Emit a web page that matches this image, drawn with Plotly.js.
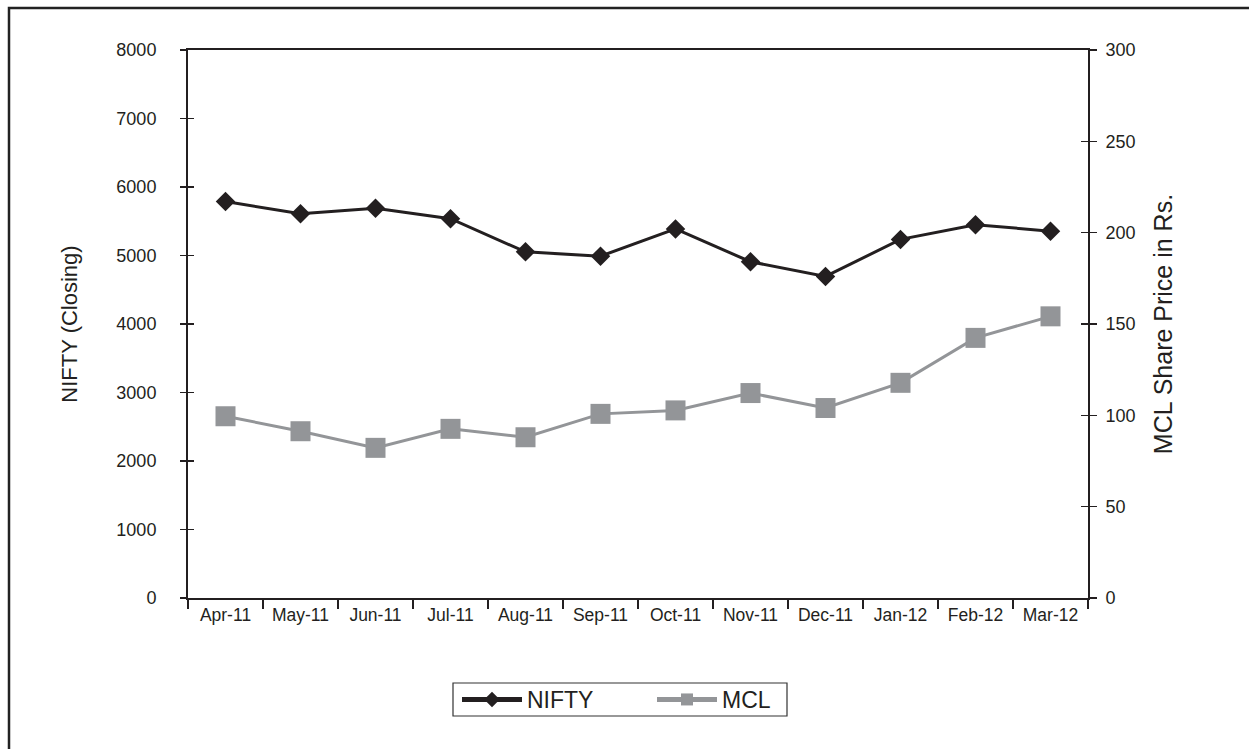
<!DOCTYPE html>
<html>
<head>
<meta charset="utf-8">
<script src="https://cdn.plot.ly/plotly-3.0.1.min.js"></script>
<style>html,body{margin:0;padding:0;background:#fff;}#chart{width:1249px;height:749px;}</style>
</head>
<body>
<div id="chart"></div>
<script>
const months = ["Apr-11","May-11","Jun-11","Jul-11","Aug-11","Sep-11","Oct-11","Nov-11","Dec-11","Jan-12","Feb-12","Mar-12"];
const nifty = [5787, 5609, 5690, 5537, 5053, 4990, 5388, 4909, 4694, 5235, 5450, 5355];
const mcl = [99.5, 91.3, 82.2, 92.6, 88.0, 100.8, 102.7, 112.2, 104.0, 117.8, 142.4, 154.2];
const leftTicks = [0,1000,2000,3000,4000,5000,6000,7000,8000];
const rightTicks = [0,50,100,150,200,250,300];

const FONT = "Liberation Sans, Arial, sans-serif";
const dark = "#231f20";
const grey = "#939598";

const traces = [
  {x: months, y: nifty, name: "NIFTY", type: "scatter", mode: "lines+markers",
   line: {color: dark, width: 3}, marker: {symbol: "diamond", size: 15, color: dark},
   xaxis: "x", yaxis: "y", hoverinfo: "skip"},
  {x: months, y: mcl, name: "MCL", type: "scatter", mode: "lines+markers",
   line: {color: grey, width: 3}, marker: {symbol: "square", size: 20, color: grey},
   xaxis: "x", yaxis: "y2", hoverinfo: "skip"},
  {x: months, y: months.map(() => null), xaxis: "x2", yaxis: "y", showlegend: false, hoverinfo: "skip", mode: "lines"},
  {x: months, y: months.map(() => null), xaxis: "x", yaxis: "y3", showlegend: false, hoverinfo: "skip", mode: "lines"},
  {x: months, y: months.map(() => null), xaxis: "x", yaxis: "y4", showlegend: false, hoverinfo: "skip", mode: "lines"}
];

const W = 1249, H = 749, L = 188, R = 161, T = 50, B = 151;
const pw = W - L - R, ph = H - T - B;
const px2x = p => (p - L) / pw;
const py2y = p => (H - B - p) / ph;

const layout = {
  width: W, height: H,
  margin: {l: L, r: R, t: T, b: B, pad: 0},
  paper_bgcolor: "#fff", plot_bgcolor: "#fff",
  font: {family: FONT, color: dark, size: 16},
  showlegend: true,
  legend: {orientation: "h", x: px2x(457), xanchor: "left", y: py2y(678), yanchor: "top",
           borderwidth: 0, bgcolor: "rgba(0,0,0,0)",
           font: {family: FONT, size: 23, color: dark}, itemsizing: "constant", itemwidth: 60,
           entrywidth: 120},
  xaxis: {type: "category", categoryorder: "array", categoryarray: months, range: [-0.5, 11.5],
          showline: true, linecolor: dark, linewidth: 2, mirror: true,
          ticks: "", showgrid: false, zeroline: false, fixedrange: true,
          tickfont: {family: FONT, size: 17.5, color: dark}, ticklabelstandoff: 0},
  xaxis2: {type: "category", categoryorder: "array", categoryarray: months, range: [-0.5, 11.5],
           overlaying: "x", side: "bottom", anchor: "y", showline: false,
           ticks: "outside", tickson: "boundaries", ticklen: 10, tickwidth: 1.5, tickcolor: dark,
           showticklabels: false, showgrid: false, zeroline: false},
  yaxis: {range: [0, 8000], tickmode: "array", tickvals: leftTicks, ticktext: leftTicks.map(String),
          showline: true, linecolor: dark, linewidth: 2, showgrid: false, zeroline: false,
          ticks: "outside", ticklen: 6, tickwidth: 1.5, tickcolor: dark,
          tickfont: {family: FONT, size: 18, color: dark}, ticklabelstandoff: 20,
          title: {text: "NIFTY (Closing)", font: {family: FONT, size: 22, color: dark}, standoff: 33}},
  yaxis3: {range: [0, 8000], tickmode: "array", tickvals: leftTicks, overlaying: "y", side: "left", anchor: "x",
           showline: false, showgrid: false, zeroline: false, showticklabels: false,
           ticks: "inside", ticklen: 6, tickwidth: 1.5, tickcolor: dark},
  yaxis2: {range: [0, 300], tickmode: "array", tickvals: rightTicks, ticktext: rightTicks.map(String),
           overlaying: "y", side: "right", anchor: "x",
           showline: true, linecolor: dark, linewidth: 2, showgrid: false, zeroline: false,
           ticks: "outside", ticklen: 7, tickwidth: 1.5, tickcolor: dark,
           tickfont: {family: FONT, size: 18, color: dark}, ticklabelstandoff: 5,
           title: {text: "MCL Share Price in Rs.", font: {family: FONT, size: 25, color: dark}, standoff: 20}},
  yaxis4: {range: [0, 300], tickmode: "array", tickvals: rightTicks, overlaying: "y", side: "right", anchor: "x",
           showline: false, showgrid: false, zeroline: false, showticklabels: false,
           ticks: "inside", ticklen: 7, tickwidth: 1.5, tickcolor: dark},
  shapes: [
    {type: "rect", xref: "paper", yref: "paper", x0: px2x(9), x1: px2x(1270), y0: py2y(770), y1: py2y(8),
     line: {color: "#222", width: 2.5}, fillcolor: "rgba(0,0,0,0)", layer: "below"},
    {type: "rect", xref: "paper", yref: "paper", x0: px2x(453), x1: px2x(787), y0: py2y(716), y1: py2y(683),
     line: {color: "#333", width: 1.2}, fillcolor: "rgba(0,0,0,0)", layer: "below"}
  ]
};

Plotly.newPlot("chart", traces, layout, {displayModeBar: false, staticPlot: true});
</script>
</body>
</html>
